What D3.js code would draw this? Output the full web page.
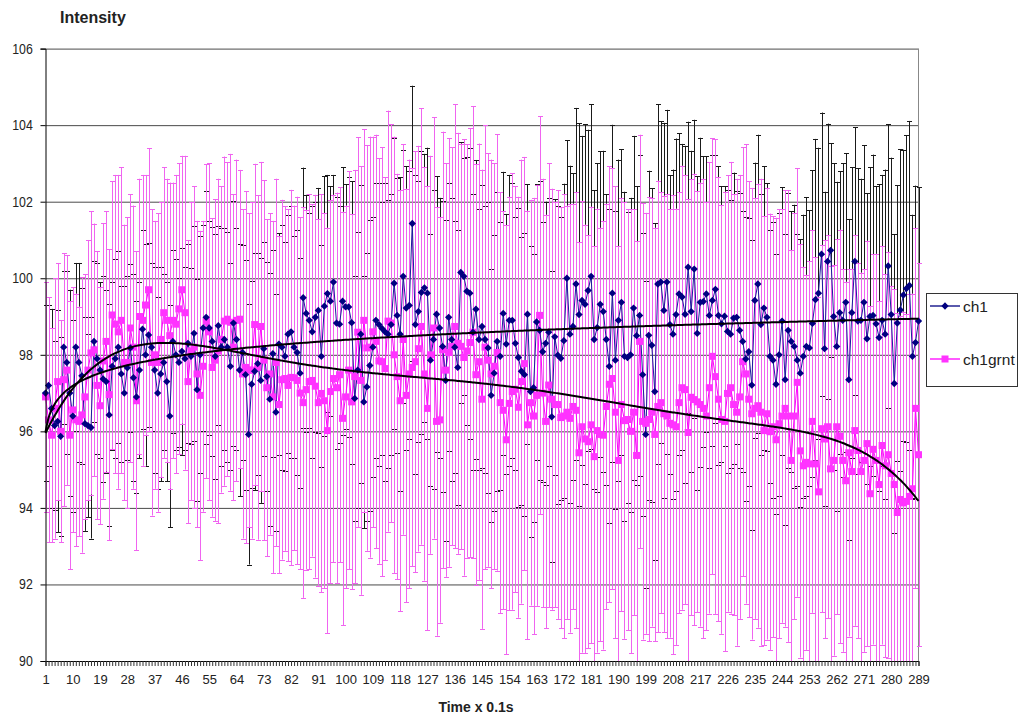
<!DOCTYPE html>
<html>
<head>
<meta charset="utf-8">
<script src="https://cdn.jsdelivr.net/npm/d3@7"></script>
<style>
  body { margin: 0; background: #fff; }
  svg { font-family: "Liberation Sans", Arial, sans-serif; }
</style>
</head>
<body>
<div id="chart"></div>
<script>
// ch1 values (one per time step)
const ch1 = [
  97.0, 97.2, 96.6, 96.15, 96.26, 95.87, 98.2, 97.8, 97.0, 96.4,
  98.2, 97.8, 97.45, 96.2, 96.15, 96.1, 98.35, 97.9, 97.6, 97.37,
  97.3, 96.43, 97.7, 97.9, 98.2, 97.5, 97.0, 97.66, 98.18, 97.4,
  96.9, 97.6, 98.67, 98.0, 98.52, 98.2, 97.6, 97.0, 97.5, 97.8,
  97.3, 96.4, 98.35, 98.0, 97.8, 98.09, 97.9, 98.3, 97.96, 98.56,
  97.09, 98.0, 98.7, 98.98, 98.7, 98.35, 97.96, 98.76, 98.2, 98.4,
  98.2, 97.7, 98.83, 98.4, 97.6, 98.06, 97.48, 95.92, 97.23, 97.57,
  97.77, 97.33, 98.16, 97.43, 96.84, 98.03, 96.5, 98.28, 98.2, 97.96,
  98.54, 98.6, 98.2, 98.06, 97.52, 99.49, 99.08, 98.9, 98.6, 98.98,
  99.16, 97.96, 99.27, 99.6, 99.4, 99.9, 98.83, 98.8, 99.4, 99.25,
  99.25, 98.84, 96.86, 97.6, 98.54, 96.77, 97.16, 97.72, 98.2, 98.9,
  98.79, 98.69, 98.6, 98.54, 98.79, 99.87, 99.03, 98.54, 100.05, 99.22,
  99.29, 101.43, 98.79, 99.13, 99.63, 99.75, 99.61, 97.86, 98.4, 99.06,
  98.7, 98.22, 97.33, 98.98, 98.4, 98.2, 97.67, 100.15, 100.05, 99.66,
  99.61, 98.59, 99.19, 98.4, 98.74, 98.4, 98.18, 96.94, 97.52, 98.35,
  97.96, 99.08, 98.28, 98.9, 98.9, 98.3, 97.93, 97.57, 97.48, 99.06,
  97.04, 97.14, 98.86, 98.64, 98.08, 98.3, 98.59, 96.38, 98.47, 97.99,
  97.91, 98.37, 100.0, 98.54, 98.74, 99.85, 99.05, 99.42, 99.32, 99.68,
  100.05, 98.4, 98.71, 99.32, 99.13, 98.4, 97.7, 99.61, 97.86, 98.9,
  99.37, 97.96, 97.93, 98.0, 99.22, 98.5, 99.03, 97.48, 95.92, 98.51,
  98.25, 97.04, 99.85, 99.9, 99.16, 99.9, 98.79, 98.54, 99.05, 99.59,
  99.51, 99.06, 100.29, 99.13, 100.24, 98.56, 99.37, 99.39, 99.59, 99.03,
  99.42, 99.71, 99.03, 98.81, 99.01, 98.61, 98.54, 98.96, 98.98, 98.64,
  98.35, 97.89, 98.08, 97.21, 99.42, 99.85, 98.79, 99.22, 98.98, 97.96,
  97.86, 97.23, 98.0, 98.88, 97.35, 98.64, 98.35, 98.22, 97.86, 97.52,
  97.96, 98.22, 98.18, 98.82, 99.44, 99.61, 100.63, 98.16, 100.44, 100.73,
  99.0, 98.22, 99.1, 98.9, 99.37, 97.35, 99.1, 100.44, 98.88, 98.9,
  99.37, 98.42, 99.0, 99.03, 98.81, 98.45, 98.9, 98.54, 100.32, 99.05,
  97.25, 98.83, 99.17, 99.56, 99.73, 99.81, 97.96, 98.32, 98.88
];

// ch1grnt values
const ch1grnt = [
  96.9, 96.3, 95.9, 96.6, 97.3, 96.0, 97.35, 97.6, 95.9, 96.56,
  96.3, 96.26, 96.43, 96.9, 97.6, 98.05, 98.13, 97.2, 96.67, 97.84,
  98.35, 96.96, 99.04, 98.8, 98.6, 98.9, 97.8, 97.8, 98.7, 98.2,
  96.8, 99.0, 98.9, 99.3, 99.7, 97.8, 98.0, 97.8, 98.4, 99.1,
  98.9, 98.5, 98.9, 98.8, 99.2, 99.7, 99.1, 97.3, 98.1, 98.2,
  97.5, 96.94, 97.7, 98.88, 98.6, 97.67, 97.86, 98.1, 98.4, 98.88,
  98.93, 98.85, 98.2, 98.9, 98.93, 97.5, 97.67, 97.6, 97.6, 98.79,
  97.67, 98.74, 97.86, 97.14, 97.5, 96.9, 97.8, 96.7, 97.35, 97.38,
  97.2, 97.41, 97.4, 97.33, 97.0, 96.75, 97.09, 97.3, 97.33, 97.18,
  96.75, 96.99, 96.8, 96.02, 97.04, 97.38, 97.14, 97.48, 96.34, 96.9,
  97.6, 96.77, 97.43, 98.59, 97.33, 98.9, 98.18, 98.2, 98.6, 98.35,
  97.84, 97.82, 97.64, 98.88, 98.83, 98.0, 97.43, 96.8, 98.4, 96.94,
  97.5, 97.67, 97.82, 98.16, 98.74, 97.5, 96.6, 98.0, 98.7, 96.26,
  96.3, 98.13, 97.6, 98.06, 98.22, 98.74, 98.3, 98.22, 97.93, 98.1,
  98.32, 98.59, 97.48, 97.82, 96.84, 98.2, 97.86, 97.5, 97.7, 98.06,
  96.75, 96.55, 95.78, 96.73, 97.04, 97.1, 96.63, 97.3, 97.77, 96.17,
  96.75, 96.4, 96.94, 99.03, 97.0, 96.26, 97.21, 96.84, 96.7, 96.7,
  96.36, 96.4, 96.5, 96.34, 96.65, 96.55, 95.44, 96.12, 95.8, 95.73,
  96.17, 95.34, 96.02, 95.92, 95.9, 96.65, 97.23, 97.38, 96.5, 95.24,
  96.7, 96.28, 96.31, 96.0, 96.5, 95.37, 98.35, 96.26, 96.21, 96.31,
  96.5, 95.92, 96.65, 96.75, 96.46, 96.4, 96.21, 96.17, 96.12, 96.75,
  97.14, 97.09, 95.97, 96.89, 96.83, 96.77, 96.7, 96.6, 96.4, 97.14,
  97.96, 97.43, 96.84, 96.31, 96.26, 96.99, 97.14, 96.7, 96.5, 96.9,
  97.82, 97.5, 96.84, 96.46, 96.6, 96.67, 96.5, 96.02, 96.46, 95.99,
  96.12, 95.78, 96.2, 96.4, 96.6, 96.4, 95.24, 96.4, 97.28, 95.49,
  95.1, 95.19, 95.15, 96.26, 95.15, 94.42, 96.07, 95.8, 96.12, 95.02,
  95.24, 96.12, 95.87, 95.24, 94.71, 95.44, 94.95, 96.02, 95.5, 94.95,
  95.24, 95.68, 94.37, 95.53, 95.24, 94.61, 95.63, 95.1, 95.39, 94.9,
  94.61, 93.88, 94.22, 94.13, 94.17, 94.3, 94.5, 96.6, 95.39
];

// error bar half widths (+/-)
const ch1Err = [
  2.3, 2.1, 2.6, 2.2, 2.9, 2.6, 2.0, 2.4, 2.7, 2.5,
  2.2, 2.6, 2.3, 2.8, 2.4, 2.9, 2.1, 2.5, 2.3, 2.7,
  2.4, 2.9, 2.2, 2.6, 2.5, 2.3, 2.8, 2.4, 2.2, 2.7,
  2.5, 2.3, 2.6, 2.9, 2.4, 2.2, 2.7, 2.5, 2.8, 2.3,
  2.6, 2.9, 2.4, 2.5, 2.2, 2.7, 2.4, 2.6, 2.3, 2.8,
  2.9, 3.1, 2.7, 3.3, 2.8, 3.0, 3.2, 2.6, 3.1, 2.9,
  3.0, 2.7, 3.2, 2.9, 3.3, 2.8, 3.0, 3.4, 2.7, 3.1,
  2.9, 3.2, 2.8, 3.0, 3.3, 2.7, 3.1, 2.9, 3.2, 3.0,
  3.1, 3.3, 2.9, 3.2, 3.0, 3.4, 3.1, 2.8, 3.3, 3.0,
  3.2, 2.9, 3.4, 3.1, 3.0, 2.8, 3.3, 3.1, 3.5, 3.2,
  3.4, 3.7, 3.2, 3.6, 3.9, 3.3, 3.5, 3.8, 3.4, 3.6,
  3.7, 3.3, 3.9, 3.5, 3.4, 3.8, 3.6, 4.1, 3.3, 3.7,
  3.5, 3.6, 3.9, 3.4, 3.7, 3.5, 3.8, 3.3, 3.9, 3.6,
  3.4, 3.8, 4.2, 3.5, 3.7, 3.3, 3.6, 3.4, 3.1, 3.5,
  3.8, 3.6, 3.9, 3.4, 3.7, 3.5, 3.8, 3.3, 3.6, 3.9,
  3.5, 3.7, 3.4, 3.8, 3.6, 3.3, 3.9, 3.5, 3.7, 3.4,
  3.8, 3.5, 3.6, 3.9, 3.4, 3.7, 3.5, 3.8, 3.6, 3.9,
  3.7, 4.1, 3.6, 4.4, 4.0, 4.6, 5.0, 4.3, 4.7, 4.2,
  4.5, 3.9, 4.3, 4.0, 4.2, 3.8, 4.1, 4.4, 3.9, 4.2,
  4.0, 4.3, 3.8, 4.1, 4.5, 3.9, 4.2, 3.7, 4.0, 4.3,
  4.1, 4.4, 4.7, 4.2, 4.9, 4.5, 3.9, 4.3, 4.6, 4.2,
  4.0, 4.4, 3.8, 4.2, 3.9, 4.1, 4.3, 3.8, 3.6, 4.0,
  3.8, 3.5, 3.9, 3.6, 3.4, 3.7, 3.5, 3.8, 3.3, 3.6,
  3.4, 3.7, 3.5, 3.8, 3.6, 3.9, 3.4, 3.7, 3.5, 3.3,
  3.6, 3.4, 3.7, 3.5, 3.8, 3.6, 3.4, 3.7, 3.3, 3.5,
  3.7, 3.9, 3.6, 4.0, 4.2, 3.8, 3.7, 4.1, 3.6, 2.8,
  4.0, 4.3, 3.7, 4.1, 3.9, 4.2, 3.8, 3.5, 4.0, 3.7,
  4.1, 3.8, 3.9, 4.2, 3.6, 4.0, 3.8, 4.3, 3.7, 4.1,
  3.9, 3.6, 4.2, 3.8, 4.0, 4.3, 3.7, 4.1, 3.5
];

const ch1grntErr = [
  3.0, 3.2, 2.8, 3.4, 3.1, 2.9, 3.3, 3.0, 3.5, 3.2,
  3.3, 3.0, 3.6, 3.2, 3.4, 3.7, 3.3, 3.5, 3.1, 3.6,
  3.4, 3.8, 3.5, 3.9, 4.1, 4.0, 3.6, 3.8, 3.5, 3.7,
  3.9, 3.6, 3.8, 3.4, 3.7, 4.0, 3.5, 3.9, 3.6, 3.8,
  3.7, 4.0, 3.6, 3.9, 3.8, 3.5, 4.1, 3.7, 3.9, 4.2,
  4.0, 4.3, 3.8, 4.1, 4.4, 3.9, 4.2, 4.5, 4.0, 4.3,
  4.1, 4.4, 4.0, 4.2, 3.9, 4.3, 4.6, 4.1, 4.4, 4.2,
  4.5, 4.3, 4.7, 4.4, 4.2, 4.6, 4.8, 4.4, 4.7, 4.5,
  4.6, 4.9, 4.5, 4.8, 4.6, 5.1, 4.7, 4.9, 4.6, 5.0,
  4.8, 5.2, 4.9, 5.3, 5.0, 4.8, 5.1, 4.9, 5.4, 5.0,
  5.2, 4.9, 5.4, 5.1, 5.6, 5.0, 5.3, 5.5, 5.1, 5.4,
  5.3, 5.6, 5.0, 5.5, 5.2, 5.7, 5.3, 5.5, 5.1, 5.4,
  5.6, 5.2, 5.5, 5.3, 5.7, 5.4, 5.8, 5.2, 5.5, 5.6,
  5.3, 5.7, 5.4, 5.6, 5.2, 5.8, 5.5, 5.3, 5.7, 5.4,
  5.6, 5.9, 5.5, 5.7, 6.0, 5.8, 5.4, 5.6, 5.3, 5.7,
  5.5, 5.2, 5.6, 5.4, 5.7, 5.3, 5.5, 5.8, 5.4, 5.6,
  5.3, 5.7, 5.5, 5.2, 5.6, 5.4, 5.8, 5.5, 5.3, 5.6,
  5.5, 5.8, 5.4, 5.6, 5.3, 5.7, 5.5, 5.9, 5.6, 5.4,
  5.7, 5.5, 5.8, 5.4, 5.6, 5.3, 5.7, 5.5, 5.9, 5.6,
  5.4, 5.7, 5.5, 5.8, 5.3, 5.6, 5.4, 5.7, 5.5, 5.8,
  5.6, 5.4, 5.9, 5.5, 5.7, 5.8, 5.6, 6.0, 5.7, 5.5,
  5.8, 5.6, 6.1, 5.7, 5.9, 5.5, 5.8, 6.0, 5.6, 5.9,
  5.7, 6.2, 5.8, 5.6, 6.0, 5.7, 5.9, 5.5, 6.1, 5.8,
  5.6, 6.0, 5.7, 5.9, 5.5, 5.8, 6.1, 5.6, 5.9, 5.7,
  5.5, 5.8, 5.6, 5.4, 5.7, 5.9, 5.5, 5.3, 5.6, 5.4,
  5.2, 4.9, 5.3, 5.0, 5.4, 5.1, 4.8, 5.2, 5.0, 5.3,
  5.1, 4.9, 5.4, 5.0, 5.2, 4.8, 5.3, 5.1, 4.9, 5.2,
  5.0, 5.3, 4.9, 5.1, 5.4, 4.8, 5.2, 5.0, 5.3, 4.9,
  5.1, 5.2, 4.8, 5.0, 4.9, 5.3, 5.1, 4.7, 5.0
];

const categories = d3.range(1, ch1.length + 1);
const yTicks = [90, 92, 94, 96, 98, 100, 102, 104, 106];
const seriesNames = ['ch1', 'ch1grnt'];

const width = 1020, height = 717;
const plotL = 45.5, plotR = 918.5, plotT = 48.6, plotB = 661;

const svg = d3.select('#chart')
  .append('svg')
  .attr('width', width)
  .attr('height', height);

const x = d3.scalePoint().domain(categories).range([plotL, plotR]).padding(0);
const y = d3.scaleLinear().domain([90, 106]).range([plotB, plotT]);

// gridlines
svg.append('g')
  .attr('transform', `translate(${plotL},0)`)
  .call(d3.axisLeft(y).tickValues(yTicks).tickSize(-(plotR - plotL)).tickFormat(''))
  .call(g => g.select('.domain').remove())
  .selectAll('line').attr('stroke', '#4a4a4a');

// plot border (right side)
svg.append('line')
  .attr('x1', plotR).attr('x2', plotR).attr('y1', plotT).attr('y2', plotB)
  .attr('stroke', '#888');

svg.append('clipPath').attr('id', 'plotClip')
  .append('rect')
  .attr('x', plotL - 4).attr('y', plotT).attr('width', plotR - plotL + 8).attr('height', plotB - plotT);

const plot = svg.append('g').attr('clip-path', 'url(#plotClip)');

function errorBars(values, errs, color) {
  const g = plot.append('g').attr('stroke', color).attr('stroke-width', 1).attr('fill', 'none');
  values.forEach((v, i) => {
    const cx = Math.round(x(categories[i])) + 0.5;
    const y1 = y(v + errs[i]), y2 = y(v - errs[i]);
    g.append('line').attr('x1', cx).attr('x2', cx).attr('y1', y1).attr('y2', y2);
    g.append('line').attr('x1', cx - 2.5).attr('x2', cx + 2.5).attr('y1', Math.round(y1) + 0.5).attr('y2', Math.round(y1) + 0.5);
    g.append('line').attr('x1', cx - 2.5).attr('x2', cx + 2.5).attr('y1', Math.round(y2) + 0.5).attr('y2', Math.round(y2) + 0.5);
  });
}

errorBars(ch1, ch1Err, '#1a1a1a');
errorBars(ch1grnt, ch1grntErr, '#f064f0');

const line = d3.line()
  .x((d, i) => x(categories[i]))
  .y(d => y(d));

plot.append('path').datum(ch1grnt)
  .attr('d', line).attr('fill', 'none').attr('stroke', '#ff00ff').attr('stroke-width', 1);
plot.append('path').datum(ch1)
  .attr('d', line).attr('fill', 'none').attr('stroke', '#1c1c9c').attr('stroke-width', 1);

plot.append('g').selectAll('rect')
  .data(ch1grnt)
  .join('rect')
  .attr('x', (d, i) => x(categories[i]) - 3.5)
  .attr('y', d => y(d) - 3.5)
  .attr('width', 7).attr('height', 7)
  .attr('fill', '#ff33ff');

const diamond = d3.symbol().type(d3.symbolDiamond2).size(34);
plot.append('g').selectAll('path')
  .data(ch1)
  .join('path')
  .attr('transform', (d, i) => `translate(${x(categories[i])},${y(d)})`)
  .attr('d', diamond)
  .attr('fill', '#000080');

// trendlines, fitted from the data the way the spreadsheet does it
function logFit(xs, ys) {
  const lx = xs.map(Math.log);
  const mx = d3.mean(lx), my = d3.mean(ys);
  const a = d3.sum(lx, (v, i) => (v - mx) * (ys[i] - my)) / d3.sum(lx, v => (v - mx) ** 2);
  const b = my - a * mx;
  return t => a * Math.log(t) + b;
}

function polyFit(xs, ys, deg) {
  const n = deg + 1;
  const c0 = (xs[0] + xs[xs.length - 1]) / 2, s = (xs[xs.length - 1] - xs[0]) / 2;
  const A = d3.range(n).map(() => new Array(n + 1).fill(0));
  xs.forEach((xv, k) => {
    const t = (xv - c0) / s;
    const p = d3.range(n).map(j => t ** j);
    for (let r = 0; r < n; r++) {
      for (let c = 0; c < n; c++) A[r][c] += p[r] * p[c];
      A[r][n] += p[r] * ys[k];
    }
  });
  for (let col = 0; col < n; col++) {
    let piv = col;
    for (let r = col + 1; r < n; r++) if (Math.abs(A[r][col]) > Math.abs(A[piv][col])) piv = r;
    [A[col], A[piv]] = [A[piv], A[col]];
    for (let r = 0; r < n; r++) {
      if (r === col) continue;
      const f = A[r][col] / A[col][col];
      for (let c = col; c <= n; c++) A[r][c] -= f * A[col][c];
    }
  }
  const coef = A.map((row, i) => row[n] / row[i]);
  return xv => {
    const t = (xv - c0) / s;
    return coef.reduce((acc, cf, j) => acc + cf * t ** j, 0);
  };
}

const ch1Trend = logFit(categories, ch1);
const grntTrend = polyFit(categories, ch1grnt, 6);

const trendLine = f => d3.line()
  .x(d => x(d))
  .y(d => y(f(d)))
  .curve(d3.curveMonotoneX)(categories);

plot.append('path').attr('d', trendLine(ch1Trend))
  .attr('fill', 'none').attr('stroke', '#000').attr('stroke-width', 2);
plot.append('path').attr('d', trendLine(grntTrend))
  .attr('fill', 'none').attr('stroke', '#000').attr('stroke-width', 2);

// axes
const yAxis = svg.append('g')
  .attr('transform', `translate(${plotL},0)`)
  .call(d3.axisLeft(y).tickValues(yTicks).tickSize(5).tickPadding(0));
yAxis.selectAll('text')
  .attr('x', -14.5)
  .attr('transform', 'scale(0.88,1)')
  .style('font-size', '14px')
  .attr('fill', '#222');

const xAxis = svg.append('g')
  .attr('transform', `translate(0,${plotB})`)
  .call(d3.axisBottom(x).tickValues(categories).tickSize(5).tickPadding(9)
    .tickFormat(d => (d - 1) % 9 === 0 ? d : ''));
xAxis.selectAll('text')
  .style('font-size', '13px')
  .attr('fill', '#222');
xAxis.selectAll('line').attr('stroke', '#333');

svg.append('text')
  .attr('x', 60).attr('y', 23)
  .style('font-size', '16px').style('font-weight', 'bold')
  .attr('fill', '#222')
  .text('Intensity');

svg.append('text')
  .attr('x', 476).attr('y', 712)
  .attr('text-anchor', 'middle')
  .style('font-size', '14px').style('font-weight', 'bold')
  .attr('fill', '#222')
  .text('Time x 0.1s');

// legend
const legend = svg.append('g');
legend.append('rect')
  .attr('x', 926.5).attr('y', 293.5).attr('width', 91).attr('height', 93)
  .attr('fill', '#fff').attr('stroke', '#333');

const legendY = [306, 359];
seriesNames.forEach((name, i) => {
  const g = legend.append('g').attr('transform', `translate(0,${legendY[i]})`);
  g.append('line').attr('x1', 930).attr('x2', 960)
    .attr('stroke', i === 0 ? '#000080' : '#ff00ff').attr('stroke-width', 1.3);
  if (i === 0) {
    g.append('path').attr('transform', 'translate(945,0)').attr('d', diamond).attr('fill', '#000080');
  } else {
    g.append('rect').attr('x', 941.5).attr('y', -3.5).attr('width', 7).attr('height', 7).attr('fill', '#ff33ff');
  }
  g.append('text').attr('x', 963).attr('y', 5.5)
    .style('font-size', '15.5px').attr('fill', '#222')
    .text(name);
});
</script>
</body>
</html>
